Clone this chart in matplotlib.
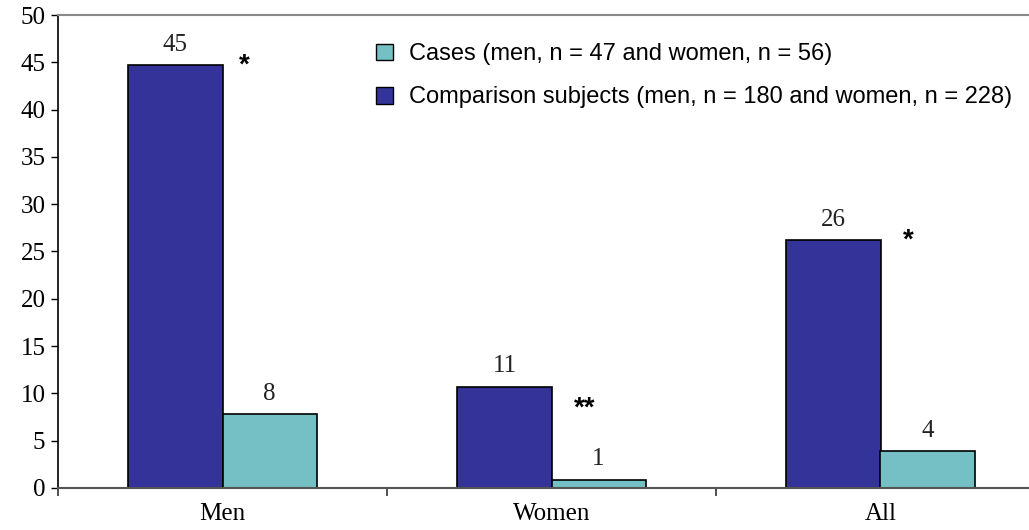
import numpy as np
import matplotlib.pyplot as plt
from matplotlib.patches import Patch

categories = ['Men', 'Women', 'All']
comparison = [44.7, 10.7, 26.2]
cases = [7.8, 0.85, 3.9]
comparison_labels = ['45', '11', '26']
cases_labels = ['8', '1', '4']
stars = ['*', '**', '*']
star_x = [0.065, 1.10, 2.085]
star_y = [44.6, 8.4, 26.1]

blue = '#333399'
teal = '#74C0C4'

fig = plt.figure(figsize=(10.29, 5.30), dpi=100)
ax = fig.add_axes([58 / 1029, 1 - 488 / 530, 1 - 58 / 1029, (488 - 15) / 530])

x = np.arange(len(categories))
w = 0.286
ax.bar(x - w / 2, comparison, w, color=blue, edgecolor='black', linewidth=1.2)
ax.bar(x + w / 2, cases, w, color=teal, edgecolor='black', linewidth=1.2)

serif = 'Liberation Serif'
for i in range(len(categories)):
    ax.text(x[i] - w / 2, comparison[i] + 1.0, comparison_labels[i], ha='center', va='bottom',
            fontsize=18, family=serif, color='#222222')
    ax.text(x[i] + w / 2, cases[i] + 1.0, cases_labels[i], ha='center', va='bottom',
            fontsize=18, family=serif, color='#222222')
    ax.text(star_x[i], star_y[i], stars[i], ha='center', va='center', fontsize=20,
            fontweight='bold', family='Liberation Sans')

ax.set_ylim(0, 50)
ax.set_xlim(-0.5, -0.5 + (1029 - 58) / 329)
ax.set_yticks(range(0, 51, 5))
ax.set_yticklabels([str(v) for v in range(0, 51, 5)], family=serif, fontsize=18)
ax.set_xticks(x)
ax.set_xticklabels(categories, family=serif, fontsize=18)
ax.tick_params(axis='x', length=0, pad=11)
ax.set_xticks([-0.5, 0.5, 1.5], minor=True)
ax.tick_params(axis='x', which='minor', length=6, width=1.2, color='#333333')
ax.tick_params(axis='y', length=5, width=1, direction='out', pad=4)

ax.spines['right'].set_visible(False)
ax.spines['top'].set_color('#888888')
ax.spines['top'].set_linewidth(1.5)
ax.spines['bottom'].set_color('#555555')
ax.spines['bottom'].set_linewidth(1.5)
ax.spines['left'].set_linewidth(1.2)

handles = [Patch(facecolor=teal, edgecolor='black'), Patch(facecolor=blue, edgecolor='black')]
labels = ['Cases (men, n = 47 and women, n = 56)',
          'Comparison subjects (men, n = 180 and women, n = 228)']
fig.legend(handles, labels, loc='upper left', bbox_to_anchor=(355 / 1029, 1 - 22 / 530),
           frameon=False, prop={'family': 'Liberation Sans', 'size': 17},
           handlelength=0.7, handleheight=0.7, handletextpad=0.7, labelspacing=0.9)

fig.savefig('out.png', dpi=100)
